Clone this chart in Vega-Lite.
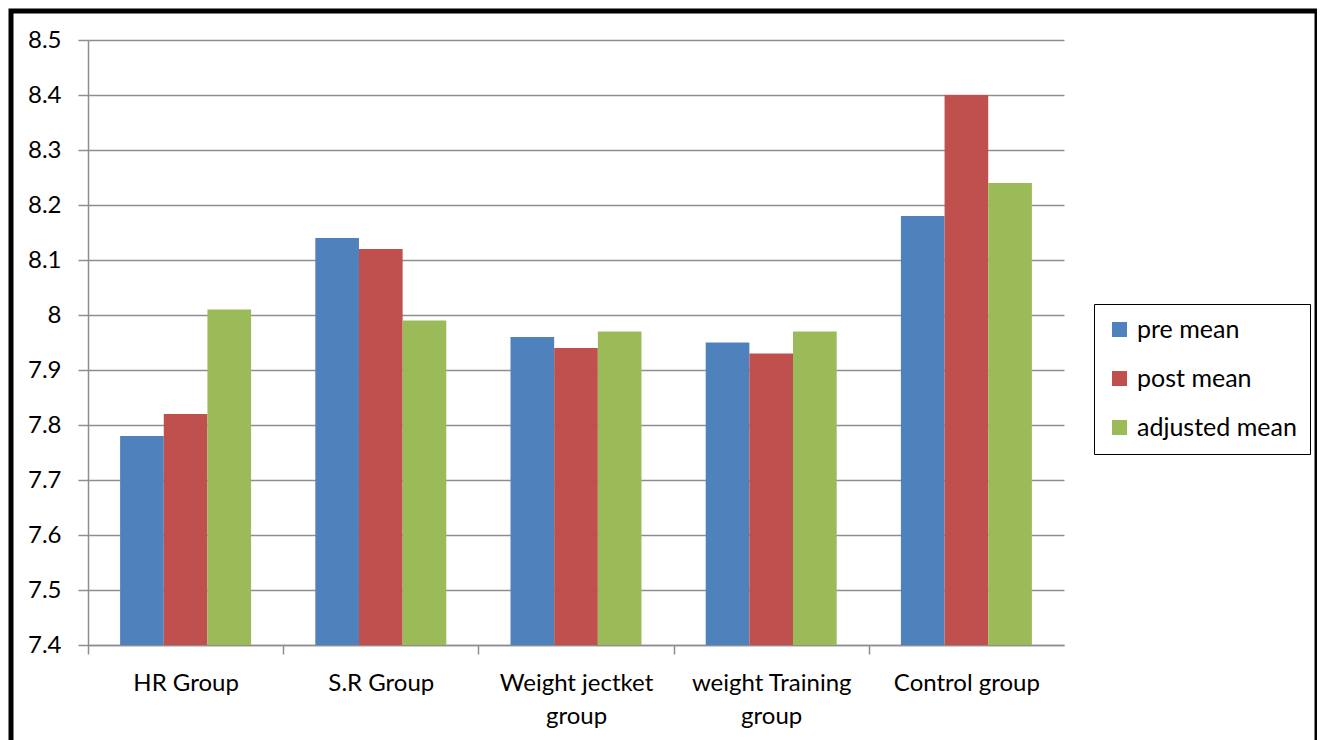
{
  "$schema": "https://vega.github.io/schema/vega-lite/v6.json",
  "autosize": {"type": "none"},
  "padding": {"left": 11, "top": 11, "right": 0, "bottom": 0},
  "width": 1306,
  "height": 740,
  "background": "white",
  "config": {
    "view": {"stroke": "black", "strokeWidth": 5},
    "font": "Lato"
  },
  "data": {
    "values": [
      {"group": "HR Group", "series": "pre mean", "value": 7.78},
      {"group": "HR Group", "series": "post mean", "value": 7.82},
      {"group": "HR Group", "series": "adjusted mean", "value": 8.01},
      {"group": "S.R Group", "series": "pre mean", "value": 8.14},
      {"group": "S.R Group", "series": "post mean", "value": 8.12},
      {"group": "S.R Group", "series": "adjusted mean", "value": 7.99},
      {"group": "Weight jectket group", "series": "pre mean", "value": 7.96},
      {"group": "Weight jectket group", "series": "post mean", "value": 7.94},
      {"group": "Weight jectket group", "series": "adjusted mean", "value": 7.97},
      {"group": "weight Training group", "series": "pre mean", "value": 7.95},
      {"group": "weight Training group", "series": "post mean", "value": 7.93},
      {"group": "weight Training group", "series": "adjusted mean", "value": 7.97},
      {"group": "Control group", "series": "pre mean", "value": 8.18},
      {"group": "Control group", "series": "post mean", "value": 8.40},
      {"group": "Control group", "series": "adjusted mean", "value": 8.24}
    ]
  },
  "mark": {"type": "bar"},
  "encoding": {
    "x": {
      "field": "group",
      "type": "nominal",
      "scale": {"domain": ["HR Group", "S.R Group", "Weight jectket group", "weight Training group", "Control group"], "range": [77, 1053], "paddingInner": 0.329, "paddingOuter": 0.1645},
      "axis": {
        "title": null,
        "orient": "bottom",
        "offset": -106,
        "labelAngle": 0,
        "domainColor": "#8e8e8e",
        "domainWidth": 1.5,
        "tickColor": "#8e8e8e",
        "tickWidth": 1.5,
        "tickSize": 9,
        "tickOffset": -97.6,
        "labelOffset": 97.6,
        "labelFont": "Lato",
        "labelFontSize": 24,
        "labelColor": "black",
        "labelPadding": 17,
        "labelLineHeight": 33,
        "labelLimit": 300,
        "labelExpr": "datum.value == 'Weight jectket group' ? ['Weight jectket', 'group'] : datum.value == 'weight Training group' ? ['weight Training', 'group'] : datum.value"
      }
    },
    "xOffset": {
      "field": "series",
      "type": "nominal",
      "scale": {"domain": ["pre mean", "post mean", "adjusted mean"], "paddingInner": 0, "paddingOuter": 0}
    },
    "y": {
      "field": "value",
      "type": "quantitative",
      "scale": {"domain": [7.4, 8.5], "range": [634, 29], "zero": false, "nice": false},
      "axis": {
        "title": null,
        "offset": -77,
        "values": [7.4, 7.5, 7.6, 7.7, 7.8, 7.9, 8.0, 8.1, 8.2, 8.3, 8.4, 8.5],
        "format": "~g",
        "grid": true,
        "gridColor": "#8e8e8e",
        "gridWidth": 1.5,
        "domainColor": "#8e8e8e",
        "domainWidth": 1.5,
        "tickColor": "#8e8e8e",
        "tickWidth": 1.5,
        "tickSize": 10,
        "labelFont": "Lato",
        "labelFontSize": 24,
        "labelColor": "black",
        "labelPadding": 17
      }
    },
    "y2": {"datum": 7.4},
    "color": {
      "field": "series",
      "type": "nominal",
      "scale": {"domain": ["pre mean", "post mean", "adjusted mean"], "range": ["#4F81BD", "#C0504D", "#9BBB59"]},
      "legend": {
        "title": null,
        "orient": "none",
        "legendX": 1083,
        "legendY": 293,
        "strokeColor": "black",
        "padding": 13,
        "symbolType": "square",
        "symbolSize": 225,
        "symbolStrokeWidth": 0,
        "labelFont": "Lato",
        "labelFontSize": 25,
        "labelColor": "black",
        "labelOffset": 5,
        "rowPadding": 23,
        "labelLimit": 300
      }
    }
  }
}
